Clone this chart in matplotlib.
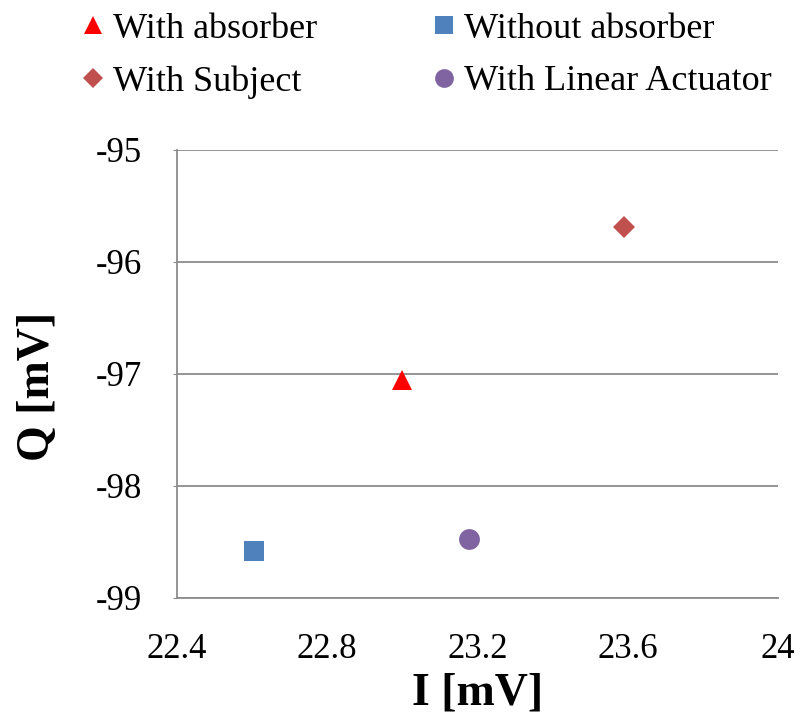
import matplotlib
matplotlib.use("Agg")
import matplotlib.pyplot as plt

plt.rcParams['font.family'] = ['Liberation Serif', 'DejaVu Serif']

# Measured points, one per condition (I, Q in mV)
labels = ["With absorber", "With Subject", "Without absorber", "With Linear Actuator"]
i_vals = [23.00, 23.59, 22.605, 23.177]
q_vals = [-97.05, -95.69, -98.58, -98.475]
markers = ["^", "D", "s", "o"]
colours = ["#FF0000", "#C0504D", "#4F81BD", "#8064A2"]
sizes = [15, 11, 15, 15]

x_ticks = [22.4, 22.8, 23.2, 23.6, 24]
x_tick_labels = ["22.4", "22.8", "23.2", "23.6", "24"]
y_ticks = [-99, -98, -97, -96, -95]
y_tick_labels = ["-99", "-98", "-97", "-96", "-95"]

grid_grey = "#8C8C8C"

fig = plt.figure(figsize=(8, 7.14), dpi=100)
ax = fig.add_axes([0.221, 0.1625, 0.7515, 0.6275])

for lab, x, y, m, c, s in zip(labels, i_vals, q_vals, markers, colours, sizes):
    ax.plot([x], [y], linestyle="none", marker=m, color=c, markersize=s,
            markeredgewidth=0, label=lab, zorder=3)

ax.set_xlim(22.4, 24)
ax.set_ylim(-99, -95)
ax.set_xticks(x_ticks)
ax.set_xticklabels(x_tick_labels)
ax.set_yticks(y_ticks)
ax.set_yticklabels(y_tick_labels)

ax.yaxis.grid(True, color=grid_grey, linewidth=1.3)
ax.set_axisbelow(True)
for side in ["top", "right"]:
    ax.spines[side].set_visible(False)
for side in ["left", "bottom"]:
    ax.spines[side].set_color(grid_grey)
    ax.spines[side].set_linewidth(1.3)

ax.tick_params(axis="y", length=3, color=grid_grey, labelsize=25, pad=22)
ax.tick_params(axis="x", length=0, labelsize=25, pad=25)

ax.set_xlabel("I [mV]", fontsize=33, fontweight="bold", labelpad=5)
ax.set_ylabel("Q [mV]", fontsize=33, fontweight="bold")
ax.yaxis.set_label_coords(-0.196, 0.473)

fig.legend(loc="upper left", bbox_to_anchor=(0.0875, 1.003), ncol=2, frameon=False,
           fontsize=26, markerscale=0.9, handlelength=0.5, handletextpad=0.3,
           columnspacing=3.25, labelspacing=0.54, borderaxespad=0)

fig.savefig("out.png", dpi=100)
